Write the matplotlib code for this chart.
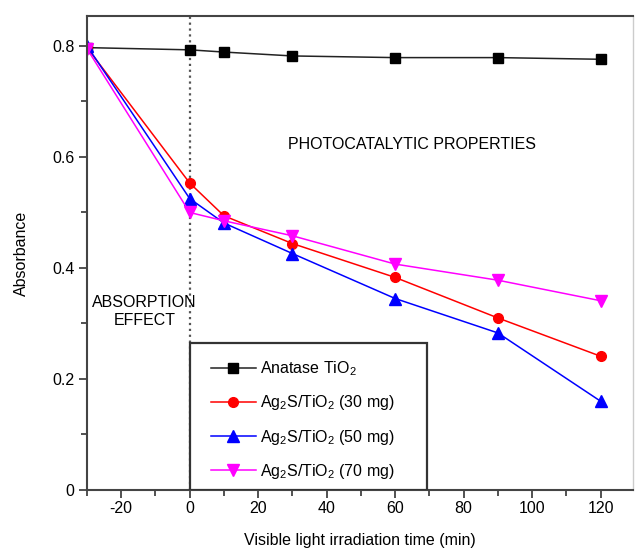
import matplotlib
matplotlib.use('Agg')
import matplotlib.pyplot as plt
import matplotlib.patches as patches
from matplotlib.ticker import MultipleLocator, FuncFormatter

plt.rcParams['font.family'] = ['Liberation Sans', 'DejaVu Sans']
plt.rcParams['mathtext.fontset'] = 'custom'
plt.rcParams['mathtext.rm'] = 'Liberation Sans'
plt.rcParams['mathtext.it'] = 'Liberation Sans:italic'
plt.rcParams['axes.unicode_minus'] = False

# time (min), values
time = [-30, 0, 10, 30, 60, 90, 120]
anatase = [0.797, 0.793, 0.789, 0.782, 0.779, 0.779, 0.776]
ag30 = [0.797, 0.553, 0.494, 0.444, 0.383, 0.310, 0.241]
ag50 = [0.800, 0.525, 0.481, 0.426, 0.345, 0.283, 0.160]
ag70 = [0.795, 0.500, 0.485, 0.458, 0.407, 0.378, 0.341]

labels = ['Anatase TiO$_2$', 'Ag$_2$S/TiO$_2$ (30 mg)',
          'Ag$_2$S/TiO$_2$ (50 mg)', 'Ag$_2$S/TiO$_2$ (70 mg)']

fs = 11.5

fig = plt.figure(figsize=(6.35, 5.51), dpi=100)
ax = fig.add_axes([0.137, 0.1107, 0.86, 0.8603])

ax.plot(time, anatase, color='#222222', lw=1.1, marker='s', ms=6.5, mfc='black', mec='black', label=labels[0])
ax.plot(time, ag30, color='red', lw=1.1, marker='o', ms=7, label=labels[1])
ax.plot(time, ag50, color='blue', lw=1.1, marker='^', ms=8, label=labels[2])
ax.plot(time, ag70, color='magenta', lw=1.1, marker='v', ms=8, label=labels[3])

ax.axvline(0, color='#555555', ls=':', lw=1.6, zorder=1)

ax.set_xlim(-30, 129.5)
ax.set_ylim(0, 0.854)
ax.xaxis.set_major_locator(MultipleLocator(20))
ax.xaxis.set_minor_locator(MultipleLocator(10))
ax.yaxis.set_major_locator(MultipleLocator(0.2))
ax.yaxis.set_minor_locator(MultipleLocator(0.1))
ax.yaxis.set_major_formatter(FuncFormatter(lambda v, p: '0' if abs(v) < 1e-9 else '%.1f' % v))
ax.tick_params(which='major', direction='out', length=6, width=1.2, labelsize=fs, color='#333333')
ax.tick_params(which='minor', direction='out', length=4, width=1.2, color='#333333')
ax.tick_params(axis='x', pad=2)
ax.tick_params(axis='y', pad=3)

for s in ['left', 'bottom', 'top']:
    ax.spines[s].set_color('#444444')
    ax.spines[s].set_linewidth(1.5)
ax.spines['right'].set_color('#cccccc')
ax.spines['right'].set_linewidth(1.0)

ax.set_xlabel('Visible light irradiation time (min)', fontsize=fs, labelpad=12)
ax.set_ylabel('Absorbance', fontsize=fs, labelpad=17)

ax.text(-28.5, 0.321, 'ABSORPTION\nEFFECT', fontsize=fs, ha='left', va='center',
        linespacing=1.25, multialignment='center')
ax.text(65, 0.623, 'PHOTOCATALYTIC PROPERTIES', fontsize=fs, ha='center', va='center')

# legend box
box = patches.Rectangle((0, 0), 69.4, 0.265, facecolor='white', edgecolor='#333333',
                        lw=1.6, zorder=5)
ax.add_patch(box)
leg = ax.legend(loc='upper left', bbox_to_anchor=(0.227, 0.276), frameon=False,
                fontsize=fs, handlelength=2.8, handletextpad=0.25, labelspacing=0.96,
                borderaxespad=0, borderpad=0)
leg.set_zorder(6)

fig.savefig('out.png', dpi=100)
